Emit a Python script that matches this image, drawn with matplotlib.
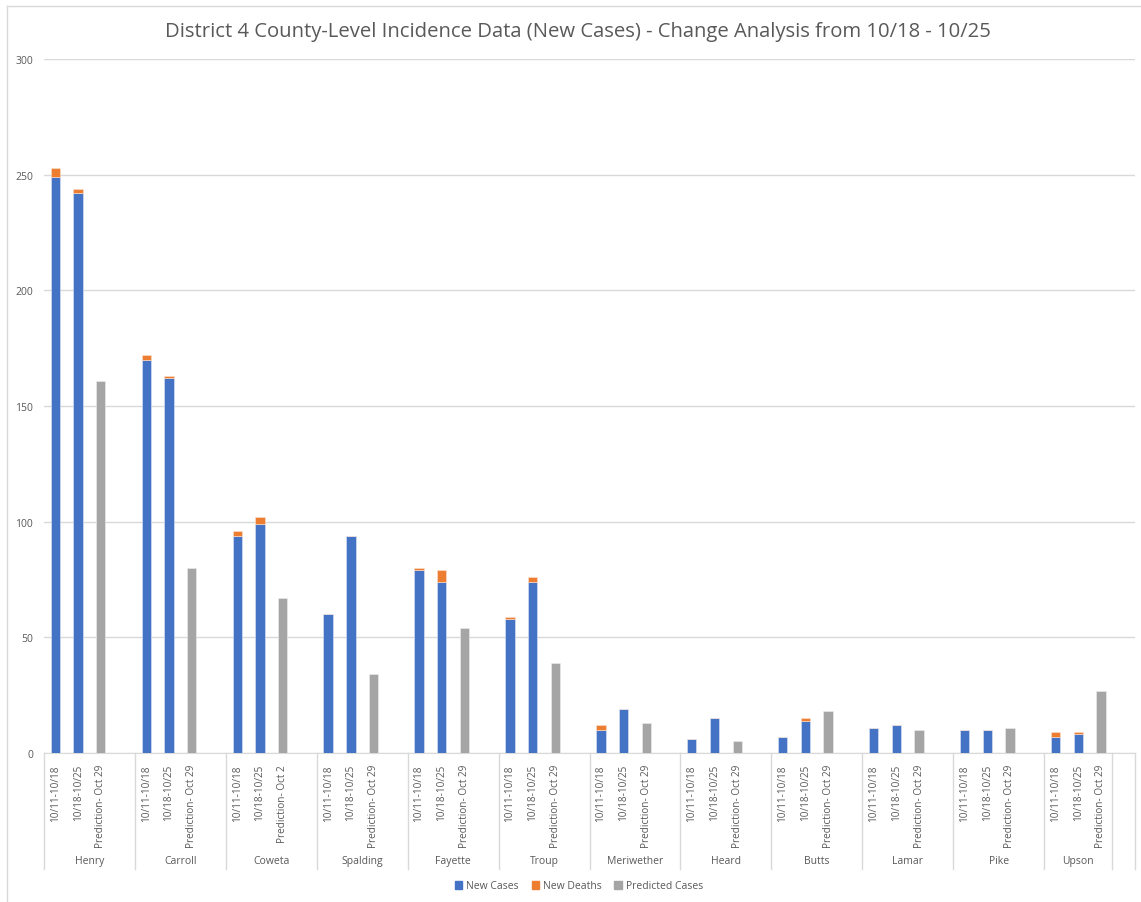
import matplotlib
matplotlib.use("Agg")
import matplotlib.pyplot as plt
from matplotlib.patches import Patch
from matplotlib.lines import Line2D

plt.rcParams['font.family'] = ['Open Sans', 'DejaVu Sans']

counties = ['Henry', 'Carroll', 'Coweta', 'Spalding', 'Fayette', 'Troup',
            'Meriwether', 'Heard', 'Butts', 'Lamar', 'Pike', 'Upson']
periods = ['10/11-10/18', '10/18-10/25']
pred_labels = ['Prediction- Oct 29'] * 12
pred_labels[2] = 'Prediction- Oct 2'

# new cases per county for the two weeks
cases_wk1 = [249, 170, 94, 60, 79, 58, 10, 6, 7, 11, 10, 7]
cases_wk2 = [242, 162, 99, 94, 74, 74, 19, 15, 14, 12, 10, 8]
deaths_wk1 = [4, 2, 2, 0, 1, 1, 2, 0, 0, 0, 0, 2]
deaths_wk2 = [2, 1, 3, 0, 5, 2, 0, 0, 1, 0, 0, 1]
predicted = [161, 80, 67, 34, 54, 39, 13, 5, 18, 10, 11, 27]

blue = '#4472C4'
orange = '#ED7D31'
grey = '#A5A5A5'
txt = '#595959'

fig = plt.figure(figsize=(11.41, 9.03), dpi=100)
ax = fig.add_axes([44 / 1141, 1 - 754 / 903, (1135 - 44) / 1141, (754 - 60) / 903])

w = 0.41
xc, yc, yd, xp, yp = [], [], [], [], []
for i in range(len(counties)):
    b = 4 * i
    xc += [b, b + 1]
    yc += [cases_wk1[i], cases_wk2[i]]
    yd += [deaths_wk1[i], deaths_wk2[i]]
    xp.append(b + 2)
    yp.append(predicted[i])

ax.bar(xc, yc, w, color=blue, edgecolor='#dfe6f5', linewidth=0.4, zorder=3)
ax.bar(xc, yd, w, bottom=yc, color=orange, edgecolor='#fbe3d3', linewidth=0.4, zorder=3)
ax.bar(xp, yp, w, color=grey, edgecolor='#eeeeee', linewidth=0.4, zorder=3)

ax.set_xlim(-0.5, 47.5)
ax.set_ylim(0, 300)
ax.set_yticks(range(0, 301, 50))
ax.yaxis.grid(True, color='#D9D9D9', linewidth=1)
ax.set_axisbelow(True)
for s in ['top', 'right', 'left']:
    ax.spines[s].set_visible(False)
ax.spines['bottom'].set_color('#D9D9D9')
ax.tick_params(axis='y', length=0, labelsize=7.5, labelcolor=txt, pad=8)

ticks, labels = [], []
for i in range(len(counties)):
    b = 4 * i
    ticks += [b, b + 1, b + 2]
    labels += [periods[0], periods[1], pred_labels[i]]
ax.set_xticks(ticks)
ax.set_xticklabels(labels, rotation=90, fontsize=7.2, color=txt, va='top')
ax.tick_params(axis='x', length=0, pad=8)

# group labels and separators for the two-level category axis
trans = ax.get_xaxis_transform()
bounds = [4 * i - 0.5 for i in range(12)] + [46.5, 47.5]
for xb in bounds:
    ax.add_line(Line2D([xb, xb], [0, -116 / 694], transform=trans,
                       color='#D9D9D9', linewidth=1, clip_on=False))
for i, c in enumerate(counties):
    cx = 4 * i + 1.5 if i < 11 else 45
    ax.text(cx, -108 / 694, c, transform=trans, ha='center', va='center',
            fontsize=7.5, color=txt)

fig.text(578 / 1141, 1 - 32 / 903,
         'District 4 County-Level Incidence Data (New Cases) - Change Analysis from 10/18 - 10/25',
         ha='center', va='center', fontsize=14.6, color=txt)

handles = [Patch(color=blue, label='New Cases'), Patch(color=orange, label='New Deaths'),
           Patch(color=grey, label='Predicted Cases')]
leg = fig.legend(handles=handles, loc='center', bbox_to_anchor=(579 / 1141, 1 - 887 / 903),
                 ncol=3, frameon=False, fontsize=7.5, handlelength=0.7, handleheight=0.7,
                 handletextpad=0.4, columnspacing=1.2)
for t in leg.get_texts():
    t.set_color(txt)

# outer chart border (top and left visible)
fig.add_artist(Line2D([7 / 1141, 7 / 1141], [0, 1 - 7 / 903], color='#D9D9D9', linewidth=1))
fig.add_artist(Line2D([7 / 1141, 1], [1 - 7 / 903, 1 - 7 / 903], color='#D9D9D9', linewidth=1))

fig.savefig('out.png', dpi=100)
